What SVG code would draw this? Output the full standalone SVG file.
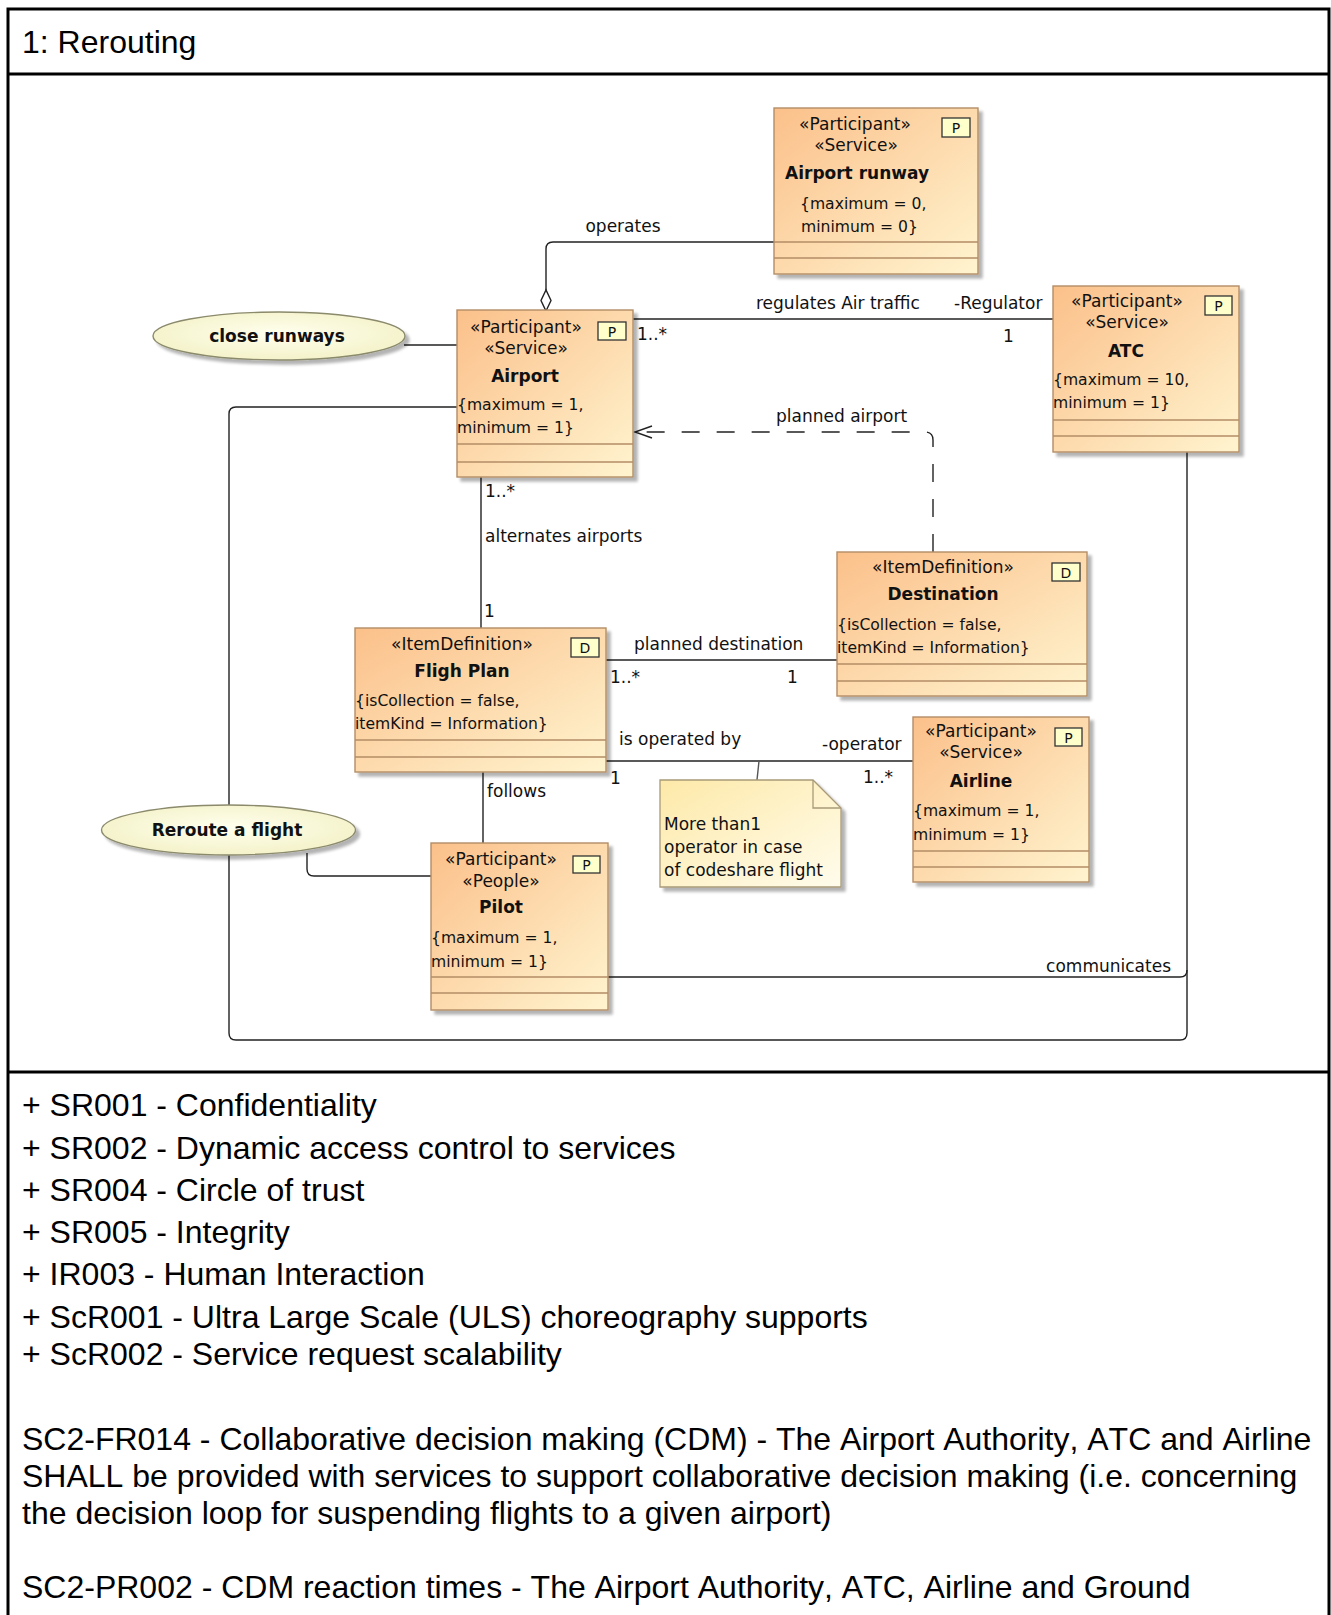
<svg xmlns="http://www.w3.org/2000/svg" width="1331" height="1615" viewBox="0 0 1331 1615">
<defs>
<linearGradient id="g" x1="0" y1="0" x2="1" y2="1"><stop offset="0" stop-color="#fbc08a"/><stop offset="1" stop-color="#fff4cf"/></linearGradient>
<linearGradient id="gn" x1="0" y1="0" x2="1" y2="1"><stop offset="0" stop-color="#fde9a8"/><stop offset="1" stop-color="#fffcec"/></linearGradient>
<radialGradient id="ge" cx="0.5" cy="0.45" r="0.6"><stop offset="0" stop-color="#ffffee"/><stop offset="1" stop-color="#f3f1c6"/></radialGradient>
<filter id="sh" x="-10%" y="-10%" width="130%" height="130%"><feGaussianBlur in="SourceAlpha" stdDeviation="1.5"/><feOffset dx="4" dy="4"/><feComponentTransfer><feFuncA type="linear" slope="0.3"/></feComponentTransfer><feMerge><feMergeNode/><feMergeNode in="SourceGraphic"/></feMerge></filter>
</defs>
<style>
.n{fill:url(#g);stroke:#b38d66;stroke-width:1.4}
.cl{stroke:#b38d66;stroke-width:1.3}
.pb{fill:#ffffcc;stroke:#333;stroke-width:1.3}
.t{font-family:'DejaVu Sans',Verdana,sans-serif;font-size:17px;fill:#111}
.b{font-weight:bold}
.c{font-size:15.6px}
.pt{font-size:14px}
.m{text-anchor:middle}
.e{text-anchor:end}
.ln{fill:none;stroke:#222;stroke-width:1.4}
.ds{stroke-dasharray:18 17}
.el{fill:url(#ge);stroke:#8b8a6c;stroke-width:1.4}
.big{font-family:'Liberation Sans',Arial,sans-serif;font-size:32px;font-kerning:none;fill:#000}
.fr{stroke:#000;stroke-width:3;fill:none}
</style>
<rect width="1331" height="1615" fill="#fff"/>
<g id="frame">
<path class="fr" d="M8 1616 V9 H1329 V1616"/>
<line class="fr" x1="8" y1="74" x2="1329" y2="74"/>
<line class="fr" x1="8" y1="1072" x2="1329" y2="1072"/>
<text class="big" x="22" y="53">1: Rerouting</text>
</g>
<g id="connectors">
<path class="ln" d="M546 290 V249 Q546 242 553 242 H774"/>
<path class="ln" d="M546 311 L551 300.5 L546 290 L541 300.5 Z" style="fill:#fff"/>
<path class="ln" d="M633 319 H1053"/>
<path class="ln" d="M404 345 H457"/>
<path class="ln" d="M457 407 H236 Q229 407 229 414 V1033 Q229 1040 236 1040 H1180 Q1187 1040 1187 1033 V452"/>
<path class="ln" d="M608 977 H1180 Q1187 977 1187 970"/>
<path class="ln ds" d="M933 552 V440 Q933 432 925 432 H636"/>
<path class="ln" d="M652 426 L635 432 L652 438"/>
<path class="ln" d="M481 477 V628"/>
<path class="ln" d="M606 660 H837"/>
<path class="ln" d="M606 761 H913"/>
<path class="ln" style="stroke:#555" d="M759 761 L757 780"/>
<path class="ln" d="M483 772 V843"/>
<path class="ln" d="M307 853 V869 Q307 876 314 876 H431"/>
<text class="t m" x="623" y="232">operates</text>
<text class="t" x="756" y="309">regulates Air traffic</text>
<text class="t" x="954" y="309">-Regulator</text>
<text class="t" x="1003" y="342">1</text>
<text class="t" x="637" y="340">1..*</text>
<text class="t" x="776" y="422">planned airport</text>
<text class="t" x="485" y="497">1..*</text>
<text class="t" x="485" y="542">alternates airports</text>
<text class="t" x="484" y="617">1</text>
<text class="t" x="634" y="650">planned destination</text>
<text class="t" x="610" y="683">1..*</text>
<text class="t" x="787" y="683">1</text>
<text class="t" x="619" y="745">is operated by</text>
<text class="t" x="822" y="750">-operator</text>
<text class="t" x="610" y="784">1</text>
<text class="t" x="863" y="783">1..*</text>
<text class="t" x="487" y="797">follows</text>
<text class="t e" x="1171" y="972">communicates</text>
</g>
<g id="airport-runway">
<rect class="n" x="774" y="108" width="204" height="166" filter="url(#sh)"/>
<line class="cl" x1="774" y1="242" x2="978" y2="242"/><line class="cl" x1="774" y1="258" x2="978" y2="258"/>
<rect class="pb" x="942" y="118" width="28" height="19"/><text class="t pt m" x="956" y="133">P</text>
<text class="t m" x="855" y="130">«Participant»</text>
<text class="t m" x="856" y="151">«Service»</text>
<text class="t b m" x="857" y="179">Airport runway</text>
<text class="t c" x="800" y="209">{maximum = 0,</text>
<text class="t c" x="801" y="232">minimum = 0}</text>
</g>
<g id="airport">
<rect class="n" x="457" y="310" width="176" height="167" filter="url(#sh)"/>
<line class="cl" x1="457" y1="444" x2="633" y2="444"/><line class="cl" x1="457" y1="462" x2="633" y2="462"/>
<rect class="pb" x="598" y="322" width="28" height="18"/><text class="t pt m" x="612" y="337">P</text>
<text class="t m" x="526" y="333">«Participant»</text>
<text class="t m" x="526" y="354">«Service»</text>
<text class="t b m" x="525" y="382">Airport</text>
<text class="t c" x="457" y="410">{maximum = 1,</text>
<text class="t c" x="457" y="433">minimum = 1}</text>
</g>
<g id="atc">
<rect class="n" x="1053" y="286" width="186" height="166" filter="url(#sh)"/>
<line class="cl" x1="1053" y1="420" x2="1239" y2="420"/><line class="cl" x1="1053" y1="436" x2="1239" y2="436"/>
<rect class="pb" x="1205" y="296" width="27" height="19"/><text class="t pt m" x="1218.5" y="311">P</text>
<text class="t m" x="1127" y="307">«Participant»</text>
<text class="t m" x="1127" y="328">«Service»</text>
<text class="t b m" x="1126" y="357">ATC</text>
<text class="t c" x="1053" y="385">{maximum = 10,</text>
<text class="t c" x="1053" y="408">minimum = 1}</text>
</g>
<g id="destination">
<rect class="n" x="837" y="552" width="250" height="144" filter="url(#sh)"/>
<line class="cl" x1="837" y1="664" x2="1087" y2="664"/><line class="cl" x1="837" y1="681" x2="1087" y2="681"/>
<rect class="pb" x="1052" y="563" width="28" height="18"/><text class="t pt m" x="1066" y="578">D</text>
<text class="t m" x="943" y="573">«ItemDefinition»</text>
<text class="t b m" x="943" y="600">Destination</text>
<text class="t c" x="837" y="630">{isCollection = false,</text>
<text class="t c" x="837" y="653">itemKind = Information}</text>
</g>
<g id="flight-plan">
<rect class="n" x="355" y="628" width="251" height="144" filter="url(#sh)"/>
<line class="cl" x1="355" y1="740" x2="606" y2="740"/><line class="cl" x1="355" y1="757" x2="606" y2="757"/>
<rect class="pb" x="571" y="638" width="28" height="19"/><text class="t pt m" x="585" y="653">D</text>
<text class="t m" x="462" y="650">«ItemDefinition»</text>
<text class="t b m" x="462" y="677">Fligh Plan</text>
<text class="t c" x="355" y="706">{isCollection = false,</text>
<text class="t c" x="355" y="729">itemKind = Information}</text>
</g>
<g id="airline">
<rect class="n" x="913" y="717" width="176" height="165" filter="url(#sh)"/>
<line class="cl" x1="913" y1="851" x2="1089" y2="851"/><line class="cl" x1="913" y1="867" x2="1089" y2="867"/>
<rect class="pb" x="1055" y="728" width="27" height="18"/><text class="t pt m" x="1068.5" y="743">P</text>
<text class="t m" x="981" y="737">«Participant»</text>
<text class="t m" x="981" y="758">«Service»</text>
<text class="t b m" x="981" y="787">Airline</text>
<text class="t c" x="913" y="816">{maximum = 1,</text>
<text class="t c" x="913" y="840">minimum = 1}</text>
</g>
<g id="pilot">
<rect class="n" x="431" y="843" width="177" height="167" filter="url(#sh)"/>
<line class="cl" x1="431" y1="977" x2="608" y2="977"/><line class="cl" x1="431" y1="993" x2="608" y2="993"/>
<rect class="pb" x="573" y="856" width="27" height="17"/><text class="t pt m" x="586.5" y="870">P</text>
<text class="t m" x="501" y="865">«Participant»</text>
<text class="t m" x="501" y="887">«People»</text>
<text class="t b m" x="501" y="913">Pilot</text>
<text class="t c" x="431" y="943">{maximum = 1,</text>
<text class="t c" x="431" y="967">minimum = 1}</text>
</g>
<g id="note">
<path d="M660 780 H813 L841 808 V887 H660 Z" fill="url(#gn)" stroke="#a89a78" stroke-width="1.3" filter="url(#sh)"/>
<path d="M813 780 V808 H841" fill="none" stroke="#a89a78" stroke-width="1.3"/>
<text class="t" x="664" y="830">More than1</text>
<text class="t" x="664" y="853">operator in case</text>
<text class="t" x="664" y="876">of codeshare flight</text>
</g>
<g id="close-runways">
<ellipse class="el" cx="279" cy="336" rx="126" ry="24" filter="url(#sh)"/>
<text class="t b m" x="277" y="342">close runways</text>
</g>
<g id="reroute-a-flight">
<ellipse class="el" cx="228.5" cy="830" rx="127" ry="25" filter="url(#sh)"/>
<text class="t b m" x="227" y="836">Reroute a flight</text>
</g>
<g id="requirements">
<text class="big" x="22" y="1116">+ SR001 - Confidentiality</text>
<text class="big" x="22" y="1159">+ SR002 - Dynamic access control to services</text>
<text class="big" x="22" y="1201">+ SR004 - Circle of trust</text>
<text class="big" x="22" y="1243">+ SR005 - Integrity</text>
<text class="big" x="22" y="1285">+ IR003 - Human Interaction</text>
<text class="big" x="22" y="1328">+ ScR001 - Ultra Large Scale (ULS) choreography supports</text>
<text class="big" x="22" y="1365">+ ScR002 - Service request scalability</text>
<text class="big" x="22" y="1450">SC2-FR014 - Collaborative decision making (CDM) - The Airport Authority, ATC and Airline</text>
<text class="big" x="22" y="1487">SHALL be provided with services to support collaborative decision making (i.e. concerning</text>
<text class="big" x="22" y="1524">the decision loop for suspending flights to a given airport)</text>
<text class="big" x="22" y="1598">SC2-PR002 - CDM reaction times - The Airport Authority, ATC, Airline and Ground</text>
</g>
</svg>
